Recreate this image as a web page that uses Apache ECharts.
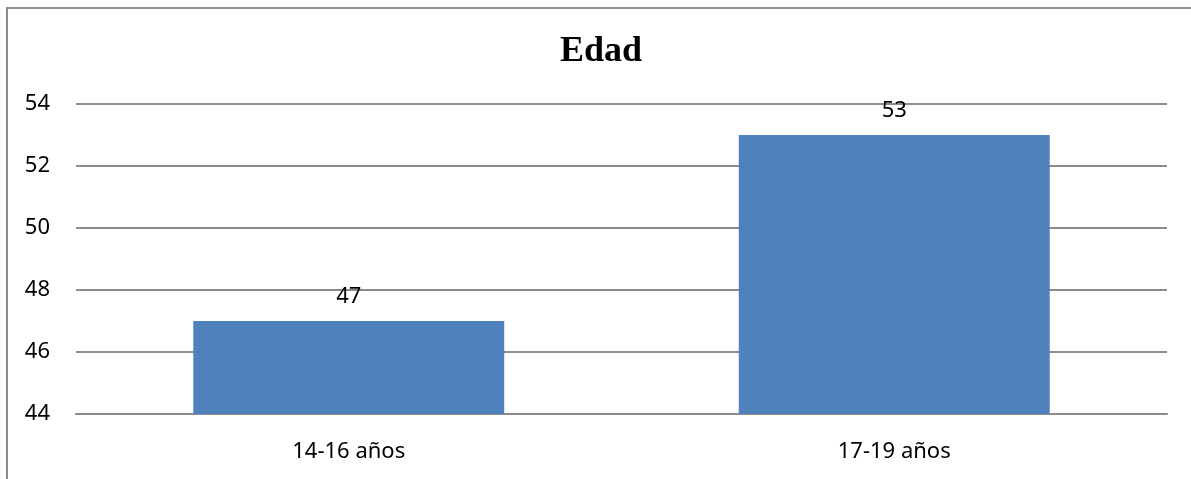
<!DOCTYPE html>
<html>
<head>
<meta charset="utf-8">
<script src="https://cdn.jsdelivr.net/npm/echarts@6/dist/echarts.min.js"></script>
<style>
  html, body { margin: 0; padding: 0; background: #fff; }
  #chart { width: 1191px; height: 479px; }
</style>
</head>
<body>
<div id="chart"></div>
<script>
// Age groups and counts
const categories = ['14-16 años', '17-19 años'];
const values = [47, 53];
const yTicks = { min: 44, max: 54, interval: 2 };

const gridColor = '#8c8c8c';
const textFont = 'Noto Sans';

const chart = echarts.init(document.getElementById('chart'));
chart.setOption({
  animation: false,
  backgroundColor: '#ffffff',
  title: {
    text: 'Edad',
    left: 601,
    top: 34,
    textAlign: 'center',
    padding: 0,
    textStyle: {
      fontFamily: 'Liberation Serif',
      fontWeight: 'bold',
      fontSize: 36,
      color: '#000'
    }
  },
  graphic: [
    {
      type: 'polyline',
      shape: { points: [[7, 500], [7, 8], [1200, 8]] },
      style: { stroke: '#8c8c8c', lineWidth: 2, fill: null },
      silent: true
    }
  ],
  grid: { left: 76, right: 24, top: 104, bottom: 65 },
  xAxis: {
    type: 'category',
    data: categories,
    axisLine: { show: true, lineStyle: { color: gridColor, width: 2 } },
    axisTick: { show: false },
    axisLabel: {
      margin: 27,
      fontFamily: textFont,
      fontSize: 22,
      color: '#000'
    }
  },
  yAxis: {
    type: 'value',
    min: yTicks.min,
    max: yTicks.max,
    interval: yTicks.interval,
    axisLine: { show: false },
    axisTick: { show: false },
    splitLine: { lineStyle: { color: gridColor, width: 2 } },
    axisLabel: {
      margin: 26,
      fontFamily: textFont,
      fontSize: 22,
      color: '#000'
    }
  },
  series: [
    {
      type: 'bar',
      data: values,
      barWidth: '57%',
      itemStyle: { color: '#4f81bd' },
      label: {
        show: true,
        position: 'top',
        distance: 13,
        fontFamily: textFont,
        fontSize: 22,
        color: '#000'
      }
    }
  ]
});
</script>
</body>
</html>
